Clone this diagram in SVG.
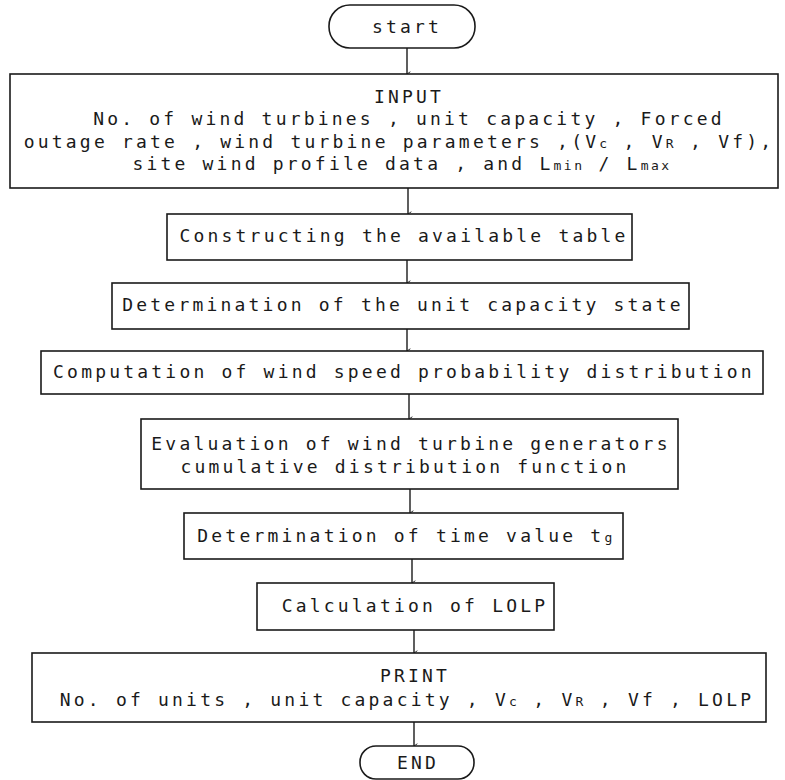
<svg xmlns="http://www.w3.org/2000/svg" width="785" height="780" viewBox="0 0 785 780">
<defs>
<style>
.box{fill:#fff;stroke:#1a1a1a;stroke-width:1.6}
.t{font-family:"DejaVu Sans Mono","Liberation Mono",monospace;font-size:18px;letter-spacing:3.2px;fill:#1a1a1a;text-anchor:middle}
.s{font-size:13px;letter-spacing:2.5px}
.c{stroke:#1a1a1a;stroke-width:1.4;fill:none;marker-end:url(#ah)}
</style>
<marker id="ah" viewBox="0 0 8 8" refX="4" refY="7.5" markerWidth="6" markerHeight="6" markerUnits="userSpaceOnUse" orient="auto-start-reverse">
<path d="M1,3 L4,7.5 L7,3" fill="none" stroke="#1a1a1a" stroke-width="1.2"/>
</marker>
</defs>
<rect width="785" height="780" fill="#fff"/>
<g id="connectors">
<line class="c" x1="407" y1="48" x2="407" y2="74"/>
<line class="c" x1="408" y1="188" x2="408" y2="214"/>
<line class="c" x1="407" y1="260" x2="407" y2="283"/>
<line class="c" x1="407" y1="329" x2="407" y2="351"/>
<line class="c" x1="409" y1="394" x2="409" y2="419"/>
<line class="c" x1="410" y1="489" x2="410" y2="513"/>
<line class="c" x1="412" y1="559" x2="412" y2="583"/>
<line class="c" x1="414" y1="630" x2="414" y2="653"/>
<line class="c" x1="414" y1="722" x2="414" y2="746"/>
</g>
<g id="start">
<rect class="box" x="329" y="5" width="146" height="43" rx="21" ry="21"/>
<text class="t" x="407" y="33">start</text>
</g>
<g id="input">
<rect class="box" x="10" y="74" width="768" height="114"/>
<text class="t" x="409" y="103">INPUT</text>
<text class="t" x="409" y="125">No. of wind turbines , unit capacity , Forced</text>
<text class="t" x="399" y="148">outage rate , wind turbine parameters ,(V<tspan class="s">c</tspan> , V<tspan class="s">R</tspan> , Vf),</text>
<text class="t" x="402" y="170">site wind profile data , and L<tspan class="s">min</tspan> / L<tspan class="s">max</tspan></text>
</g>
<g id="construct">
<rect class="box" x="167" y="214" width="465" height="46"/>
<text class="t" x="404" y="242">Constructing the available table</text>
</g>
<g id="unitstate">
<rect class="box" x="112" y="283" width="577" height="46"/>
<text class="t" x="403" y="311">Determination of the unit capacity state</text>
</g>
<g id="windprob">
<rect class="box" x="41" y="351" width="722" height="43"/>
<text class="t" x="404" y="378">Computation of wind speed probability distribution</text>
</g>
<g id="evaluation">
<rect class="box" x="141" y="419" width="537" height="70"/>
<text class="t" x="411" y="450">Evaluation of wind turbine generators</text>
<text class="t" x="405" y="473">cumulative distribution function</text>
</g>
<g id="timevalue">
<rect class="box" x="184" y="513" width="439" height="46"/>
<text class="t" x="406" y="542">Determination of time value t<tspan class="s">g</tspan></text>
</g>
<g id="lolp">
<rect class="box" x="257" y="583" width="297" height="47"/>
<text class="t" x="415" y="612">Calculation of LOLP</text>
</g>
<g id="print">
<rect class="box" x="32" y="653" width="734" height="69"/>
<text class="t" x="415" y="682">PRINT</text>
<text class="t" x="407" y="706">No. of units , unit capacity , V<tspan class="s">c</tspan> , V<tspan class="s">R</tspan> , Vf , LOLP</text>
</g>
<g id="end">
<rect class="box" x="360" y="746" width="114" height="33" rx="16" ry="16"/>
<text class="t" x="418" y="769">END</text>
</g>
</svg>
